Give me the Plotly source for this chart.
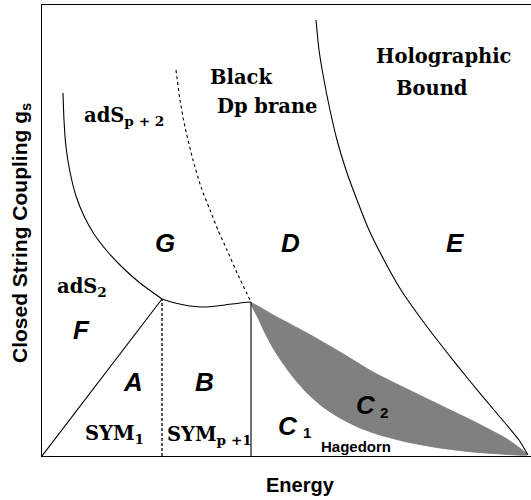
import plotly.graph_objects as go

# ---- data (diagram units: energy along x, coupling along y) ----
left_curve_E = [21, 22, 24, 28, 34, 42, 52, 65, 80, 98, 120]
left_curve_g = [363, 336, 309, 284, 260, 240, 222, 205, 189, 173, 157]

dashed_curve_E = [134, 138, 143, 151, 159, 168, 176, 185, 196, 209]
dashed_curve_g = [386, 356, 329, 296, 269, 246, 226, 206, 181, 154]

holo_curve_E = [274, 277, 282, 288, 295, 304, 315, 327, 342, 359, 380, 403, 427, 452, 477, 486]
holo_curve_g = [436, 406, 376, 346, 316, 286, 256, 226, 196, 166, 136, 106, 76, 46, 16, 1]

mid_curve_E = [120, 133, 148, 165, 183, 198, 209]
mid_curve_g = [157, 153, 150, 149, 151, 153, 154]

tri_line_E = [0, 120]
tri_line_g = [0, 157]

dash_vert_E = [120, 120]
dash_vert_g = [0, 157]

solid_vert_E = [209, 209]
solid_vert_g = [0, 154]

gray_upper_E = [209, 233, 265, 298, 331, 365, 398, 431, 465, 485]
gray_upper_g = [153, 140, 123, 104, 84, 67, 51, 35, 17, 2]
gray_lower_E = [485, 458, 431, 398, 365, 338, 318, 298, 281, 265, 251, 240, 231, 223, 216, 209]
gray_lower_g = [1, 2, 4, 8, 14, 21, 28, 38, 49, 63, 79, 94, 108, 123, 138, 153]

fig = go.Figure()

# shaded region C2
fig.add_trace(go.Scatter(x=gray_upper_E + gray_lower_E, y=gray_upper_g + gray_lower_g,
                         fill="toself", fillcolor="#808080", mode="lines",
                         line=dict(color="#787878", width=0.8, shape="spline", smoothing=0.6),
                         hoverinfo="skip"))

def line(xs, ys, dash="solid", width=1.1):
    fig.add_trace(go.Scatter(x=xs, y=ys, mode="lines",
                             line=dict(color="black", width=width, dash=dash, shape="spline", smoothing=0.6),
                             hoverinfo="skip"))

line(left_curve_E, left_curve_g)
line(dashed_curve_E, dashed_curve_g, dash="3px,3px")
line(holo_curve_E, holo_curve_g)
line(mid_curve_E, mid_curve_g)
line(tri_line_E, tri_line_g)
line(dash_vert_E, dash_vert_g, dash="3px,2px", width=1.3)
line(solid_vert_E, solid_vert_g)

SERIF = "DejaVu Serif"
SANS = "Liberation Sans"

def lab(x, y, text, family, size, italic=False):
    t = f"<b>{text}</b>"
    if italic:
        t = f"<b><i>{text}</i></b>"
    fig.add_annotation(x=x, y=y, xref="x", yref="y", text=t, showarrow=False,
                       font=dict(family=family, size=size, color="black"))

SS = 19.5
lab(401, 400, "Holographic", SERIF, SS)
lab(390, 368, "Bound", SERIF, SS)
lab(199, 379, "Black", SERIF, SS)
lab(225, 350, "Dp brane", SERIF, SS)
lab(82, 340, "adS<sub>p + 2</sub>", SERIF, SS)
lab(40, 169, "adS<sub>2</sub>", SERIF, SS)
lab(72, 22, "SYM<sub>1</sub>", SERIF, SS)
lab(167, 21, "SYM<sub>p +1</sub>", SERIF, SS)

for x, y, t in [(123, 213, "G"), (248, 213, "D"), (413, 213, "E"), (39, 126, "F"),
                (91, 74, "A"), (162, 74, "B"), (246, 30, "C"), (324, 51, "C")]:
    lab(x, y, t, SANS, 26, italic=True)

lab(265, 24, "1", SANS, 15)
lab(342, 44, "2", SANS, 15)
lab(314, 10, "Hagedorn", SANS, 15)

# axis titles (paper coordinates, outside the plot area)
fig.add_annotation(x=258 / 489, y=-42 / 451, xref="paper", yref="paper", text="<b>Energy</b>",
                   showarrow=False, font=dict(family=SANS, size=20, color="black"))
fig.add_annotation(x=-36 / 489, y=223 / 451, xref="paper", yref="paper",
                   text="<b>Closed String Coupling g<sub>s</sub></b>",
                   textangle=-90, showarrow=False,
                   font=dict(family=SANS, size=21, color="black"))

fig.update_layout(
    width=531, height=500,
    margin=dict(l=42, r=0, t=5, b=44),
    paper_bgcolor="white", plot_bgcolor="white",
    showlegend=False,
    xaxis=dict(range=[0, 489], showgrid=False, zeroline=False, showticklabels=False, ticks="",
               showline=True, linecolor="black", linewidth=1.3, mirror=True),
    yaxis=dict(range=[0, 451], showgrid=False, zeroline=False, showticklabels=False, ticks="",
               showline=True, linecolor="black", linewidth=1.3, mirror=False),
)

fig.write_html("out.html", config={"displayModeBar": False},
               post_script="document.body.style.margin='0px';")
